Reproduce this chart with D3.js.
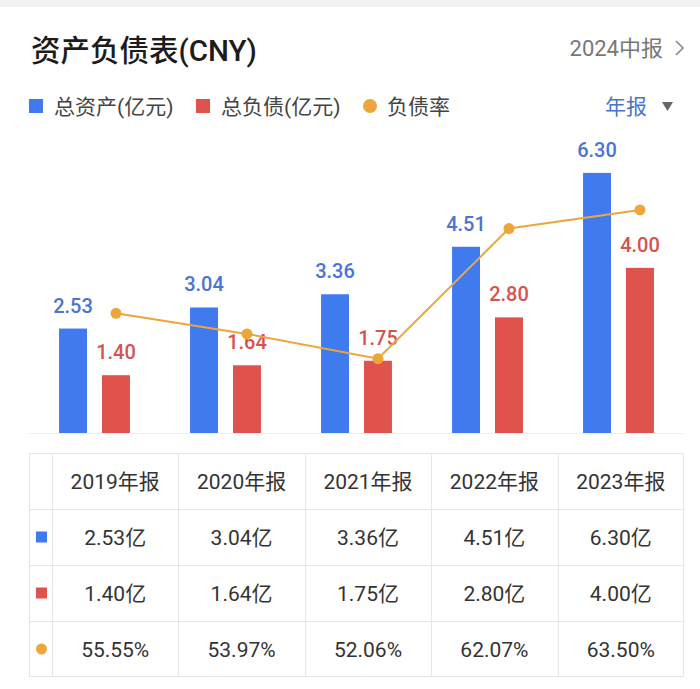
<!DOCTYPE html>
<html>
<head>
<meta charset="utf-8">
<script src="https://cdn.jsdelivr.net/npm/d3@7"></script>
<style>
  html, body { margin: 0; padding: 0; background: #fff; }
  svg { display: block; font-family: "Roboto", "Noto Sans CJK SC", sans-serif; }
</style>
</head>
<body>
<svg id="chart" width="700" height="689"></svg>
<script>
const categories = ["2019年报", "2020年报", "2021年报", "2022年报", "2023年报"];
const totalAssets = [2.53, 3.04, 3.36, 4.51, 6.30];
const totalLiabilities = [1.40, 1.64, 1.75, 2.80, 4.00];
const debtRatio = [55.55, 53.97, 52.06, 62.07, 63.50];
const seriesNames = ["总资产(亿元)", "总负债(亿元)", "负债率"];

const C = {
  blue: "#3f7bef", red: "#e0524c", orange: "#eda63a",
  blueText: "#4a74d4", redText: "#d6524e"
};

const svg = d3.select("#chart");

// top grey band
svg.append("rect").attr("x", 0).attr("y", 0).attr("width", 700).attr("height", 7).attr("fill", "#f2f2f2");

// title
svg.append("text").attr("x", 31).attr("y", 61)
  .attr("font-size", 29.5).attr("font-weight", 500).attr("fill", "#1c1c1c")
  .text("资产负债表(CNY)");

svg.append("text").attr("x", 663).attr("y", 56).attr("text-anchor", "end")
  .attr("font-size", 22).attr("fill", "#777").text("2024中报");
svg.append("path").attr("d", "M676,41 L683,48 L676,55").attr("fill", "none")
  .attr("stroke", "#888").attr("stroke-width", 1.6);

// legend
const lg = svg.append("g");
lg.append("rect").attr("x", 29).attr("y", 99).attr("width", 14).attr("height", 14).attr("fill", C.blue);
lg.append("text").attr("x", 54).attr("y", 114).attr("font-size", 21).attr("fill", "#444").text(seriesNames[0]);
lg.append("rect").attr("x", 196).attr("y", 99).attr("width", 14).attr("height", 14).attr("fill", C.red);
lg.append("text").attr("x", 221).attr("y", 114).attr("font-size", 21).attr("fill", "#444").text(seriesNames[1]);
lg.append("circle").attr("cx", 370).attr("cy", 106).attr("r", 7).attr("fill", C.orange);
lg.append("text").attr("x", 387).attr("y", 114).attr("font-size", 21).attr("fill", "#444").text(seriesNames[2]);

svg.append("text").attr("x", 605).attr("y", 114).attr("font-size", 21).attr("fill", "#4a74c8").text("年报");
svg.append("path").attr("d", "M662,102 L673,102 L667.5,111 Z").attr("fill", "#666");

// scales
const x0 = d3.scaleBand().domain(categories).range([29, 684]).padding(0);
const x1 = d3.scaleBand().domain(["assets", "liab"]).range([0, x0.bandwidth()])
  .paddingInner(0.349).paddingOuter(0.7);
const y = d3.scaleLinear().domain([0, 7]).range([433, 144]);
const yRate = d3.scaleLinear().domain([46.35, 68.57]).range([433, 144]);

// baseline
svg.append("line").attr("x1", 29).attr("x2", 684).attr("y1", 433.5).attr("y2", 433.5)
  .attr("stroke", "#eeeeee").attr("stroke-width", 1);

const rows = categories.map((c, i) => ({ c, a: totalAssets[i], l: totalLiabilities[i], r: debtRatio[i] }));

const g = svg.append("g");
g.selectAll(".ba").data(rows).join("rect")
  .attr("x", d => x0(d.c) + x1("assets")).attr("width", x1.bandwidth())
  .attr("y", d => y(d.a)).attr("height", d => y(0) - y(d.a)).attr("fill", C.blue);
g.selectAll(".bl").data(rows).join("rect")
  .attr("x", d => x0(d.c) + x1("liab")).attr("width", x1.bandwidth())
  .attr("y", d => y(d.l)).attr("height", d => y(0) - y(d.l)).attr("fill", C.red);

// labels
g.selectAll(".la").data(rows).join("text")
  .attr("x", d => x0(d.c) + x1("assets") + x1.bandwidth() / 2)
  .attr("y", d => y(d.a) - 16).attr("text-anchor", "middle")
  .attr("font-size", 20).attr("font-weight", 500).attr("fill", C.blueText)
  .text(d => d.a.toFixed(2));
g.selectAll(".ll").data(rows).join("text")
  .attr("x", d => x0(d.c) + x1("liab") + x1.bandwidth() / 2)
  .attr("y", d => y(d.l) - 16).attr("text-anchor", "middle")
  .attr("font-size", 20).attr("font-weight", 500).attr("fill", C.redText)
  .text(d => d.l.toFixed(2));

// line
const lx = d => x0(d.c) + x1("liab") + x1.bandwidth() / 2;
g.append("path").datum(rows)
  .attr("d", d3.line().x(lx).y(d => yRate(d.r)))
  .attr("fill", "none").attr("stroke", C.orange).attr("stroke-width", 2);
g.selectAll(".dot").data(rows).join("circle")
  .attr("cx", lx).attr("cy", d => yRate(d.r)).attr("r", 5.5).attr("fill", C.orange);

// table
const tx = d3.scaleBand().domain(categories).range([52, 684]);
const rowY = d3.scaleBand().domain([0, 1, 2, 3]).range([453, 677]);
const tg = svg.append("g");
const border = "#e6e6e6";
tg.append("rect").attr("x", 29.5).attr("y", 453.5).attr("width", 654).attr("height", 223)
  .attr("fill", "none").attr("stroke", border);
[1, 2, 3].forEach(r => tg.append("line").attr("x1", 29.5).attr("x2", 683.5)
  .attr("y1", rowY(r) + 0.5).attr("y2", rowY(r) + 0.5).attr("stroke", border));
tg.append("line").attr("x1", 52.5).attr("x2", 52.5).attr("y1", 453.5).attr("y2", 676.5).attr("stroke", border);
categories.slice(1).forEach(c => tg.append("line").attr("x1", Math.round(tx(c)) + 0.5).attr("x2", Math.round(tx(c)) + 0.5)
  .attr("y1", 453.5).attr("y2", 676.5).attr("stroke", border));

const cellText = (r, c, txt) => tg.append("text")
  .attr("x", tx(c) + tx.bandwidth() / 2).attr("y", rowY(r) + rowY.bandwidth() / 2 + 8)
  .attr("text-anchor", "middle").attr("font-size", 21).attr("fill", "#333").text(txt);

rows.forEach(d => {
  cellText(0, d.c, d.c);
  cellText(1, d.c, d.a.toFixed(2) + "亿");
  cellText(2, d.c, d.l.toFixed(2) + "亿");
  cellText(3, d.c, d.r.toFixed(2) + "%");
});
const mc = rowY.bandwidth() / 2;
tg.append("rect").attr("x", 36).attr("y", rowY(1) + mc - 5.5).attr("width", 11).attr("height", 11).attr("fill", C.blue);
tg.append("rect").attr("x", 36).attr("y", rowY(2) + mc - 5.5).attr("width", 11).attr("height", 11).attr("fill", C.red);
tg.append("circle").attr("cx", 41.5).attr("cy", rowY(3) + mc).attr("r", 5.5).attr("fill", C.orange);
</script>
</body>
</html>
